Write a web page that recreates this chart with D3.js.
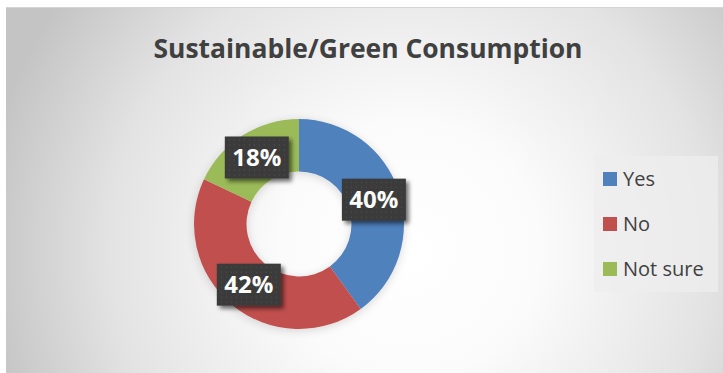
<!DOCTYPE html>
<html>
<head>
<meta charset="utf-8">
<script src="https://cdn.jsdelivr.net/npm/d3@7"></script>
<style>
  html, body { margin: 0; padding: 0; background: #ffffff; }
  svg { display: block; }
</style>
</head>
<body>
<script>
// Survey responses
const categories = ["Yes", "No", "Not sure"];
const shares = [40, 42, 18];
const colors = ["#4f81bd", "#c0504d", "#9bbb59"];
const title = "Sustainable/Green Consumption";

const W = 723, H = 373;
const svg = d3.select("body").append("svg").attr("width", W).attr("height", H);
const defs = svg.append("defs");

// Background glow: white centre fading to grey edges
const bg = defs.append("radialGradient").attr("id", "bgGrad")
  .attr("gradientUnits", "userSpaceOnUse")
  .attr("cx", 410).attr("cy", 250).attr("r", 430);
bg.append("stop").attr("offset", "0%").attr("stop-color", "#ffffff");
bg.append("stop").attr("offset", "30%").attr("stop-color", "#fbfbfb");
bg.append("stop").attr("offset", "70%").attr("stop-color", "#e3e3e3");
bg.append("stop").attr("offset", "100%").attr("stop-color", "#c4c4c4");

// Dotted texture for data label boxes
const pat = defs.append("pattern").attr("id", "dots")
  .attr("patternUnits", "userSpaceOnUse").attr("width", 5).attr("height", 5);
pat.append("rect").attr("width", 5).attr("height", 5).attr("fill", "#3a3a3a");
pat.append("rect").attr("x", 2).attr("y", 2).attr("width", 1).attr("height", 1).attr("fill", "#555555");

// Soft shadow
const sh = defs.append("filter").attr("id", "shadow")
  .attr("x", "-30%").attr("y", "-30%").attr("width", "170%").attr("height", "170%");
sh.append("feGaussianBlur").attr("in", "SourceAlpha").attr("stdDeviation", 2.2).attr("result", "b");
sh.append("feOffset").attr("in", "b").attr("dx", 3).attr("dy", 3).attr("result", "o");
sh.append("feComponentTransfer").attr("in", "o").attr("result", "oa")
  .append("feFuncA").attr("type", "linear").attr("slope", 0.55);
const fm = sh.append("feMerge");
fm.append("feMergeNode").attr("in", "oa");
fm.append("feMergeNode").attr("in", "SourceGraphic");

const donutShadow = defs.append("filter").attr("id", "donutShadow")
  .attr("x", "-30%").attr("y", "-30%").attr("width", "160%").attr("height", "160%");
donutShadow.append("feGaussianBlur").attr("in", "SourceAlpha").attr("stdDeviation", 5).attr("result", "b");
donutShadow.append("feOffset").attr("in", "b").attr("dx", 0).attr("dy", 2).attr("result", "o");
donutShadow.append("feComponentTransfer").attr("in", "o").attr("result", "oa")
  .append("feFuncA").attr("type", "linear").attr("slope", 0.15);
const fm2 = donutShadow.append("feMerge");
fm2.append("feMergeNode").attr("in", "oa");
fm2.append("feMergeNode").attr("in", "SourceGraphic");

// Chart area
svg.append("rect").attr("x", 6).attr("y", 7).attr("width", W - 6).attr("height", H - 7)
  .attr("fill", "url(#bgGrad)");
svg.append("line").attr("x1", 6).attr("x2", W).attr("y1", 7.5).attr("y2", 7.5)
  .attr("stroke", "#d4d4d4").attr("stroke-width", 1);

// Title
svg.append("text").attr("x", 368).attr("y", 58)
  .attr("text-anchor", "middle")
  .attr("font-family", "'Open Sans', 'Noto Sans', sans-serif")
  .attr("font-weight", "bold").attr("font-size", 27)
  .attr("textLength", 429).attr("lengthAdjust", "spacingAndGlyphs")
  .attr("fill", "#404040")
  .text(title);

// Donut
const cx = 299, cy = 224, rOuter = 105, rInner = 52.5;
const data = categories.map((c, i) => ({ cat: c, value: shares[i], color: colors[i] }));
const pie = d3.pie().value(d => d.value).sort(null);
const arcs = pie(data);
const arc = d3.arc().innerRadius(rInner).outerRadius(rOuter);

const g = svg.append("g").attr("transform", `translate(${cx},${cy})`);
g.append("g").attr("filter", "url(#donutShadow)")
  .selectAll("path").data(arcs).join("path")
  .attr("d", arc).attr("fill", d => d.data.color);

// Data labels
const labelW = 64, labelH = 42;
const labels = g.selectAll("g.lbl").data(arcs).join("g")
  .attr("class", "lbl")
  .attr("transform", d => {
    const [x, y] = arc.centroid(d);
    return `translate(${x},${y})`;
  });
labels.append("rect")
  .attr("x", -labelW / 2).attr("y", -labelH / 2)
  .attr("width", labelW).attr("height", labelH)
  .attr("fill", "url(#dots)").attr("filter", "url(#shadow)");
labels.append("text")
  .attr("text-anchor", "middle").attr("dy", "0.36em")
  .attr("font-family", "'Open Sans', 'Noto Sans', sans-serif")
  .attr("font-weight", "bold").attr("font-size", 24)
  .attr("fill", "#ffffff")
  .text(d => d.data.value + "%");

// Legend
const lg = svg.append("g");
lg.append("rect").attr("x", 594).attr("y", 156).attr("width", 124).attr("height", 136)
  .attr("fill", "#ededed").attr("opacity", 0.75);
const ly = d3.scalePoint().domain(categories).range([179, 269]);
const items = lg.selectAll("g.item").data(data).join("g")
  .attr("class", "item")
  .attr("transform", d => `translate(603,${ly(d.cat)})`);
items.append("rect").attr("x", 0).attr("y", -7).attr("width", 14).attr("height", 14)
  .attr("fill", d => d.color);
items.append("text").attr("x", 20).attr("dy", "0.35em")
  .attr("font-family", "'Open Sans', 'Noto Sans', sans-serif")
  .attr("font-size", 20).attr("fill", "#404040")
  .text(d => d.cat);
</script>
</body>
</html>
